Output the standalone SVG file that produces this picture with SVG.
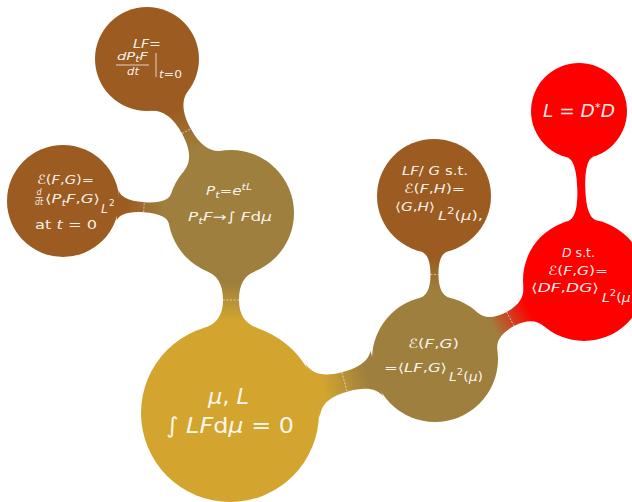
<svg xmlns="http://www.w3.org/2000/svg" width="632" height="502" viewBox="0 0 632 502">
<style>
text{font-family:"DejaVu Sans","Liberation Sans",sans-serif;fill:#fff;fill-opacity:.93;font-size:12.5px}
.i{font-style:italic}
.seam{stroke:#fff;stroke-width:.8;stroke-dasharray:2 1.5;opacity:.7}
.bar{stroke:#fff;stroke-opacity:.93;stroke-width:.8}
.gold{fill:#D3A52F}.olive{fill:#9E7F3D}.brown{fill:#9C5B20}.red{fill:#FF0000}
</style>
<defs>
<linearGradient id="gA" gradientUnits="userSpaceOnUse" x1="70" y1="0" x2="108" y2="0"><stop offset="0" stop-color="#9E7F3D"/><stop offset="1" stop-color="#D3A52F"/></linearGradient>
<linearGradient id="gB" gradientUnits="userSpaceOnUse" x1="72" y1="0" x2="118" y2="0"><stop offset="0" stop-color="#9E7F3D"/><stop offset="1" stop-color="#9C5B20"/></linearGradient>
<linearGradient id="gC" gradientUnits="userSpaceOnUse" x1="68" y1="0" x2="106" y2="0"><stop offset="0" stop-color="#9E7F3D"/><stop offset="1" stop-color="#9C5B20"/></linearGradient>
<linearGradient id="gD" gradientUnits="userSpaceOnUse" x1="96" y1="0" x2="142" y2="0"><stop offset="0" stop-color="#D3A52F"/><stop offset="1" stop-color="#9E7F3D"/></linearGradient>
<linearGradient id="gE" gradientUnits="userSpaceOnUse" x1="68" y1="0" x2="102" y2="0"><stop offset="0" stop-color="#9E7F3D"/><stop offset="1" stop-color="#9C5B20"/></linearGradient>
<linearGradient id="gF" gradientUnits="userSpaceOnUse" x1="66" y1="0" x2="106" y2="0"><stop offset="0" stop-color="#9E7F3D"/><stop offset="1" stop-color="#FF0000"/></linearGradient>
<linearGradient id="gG" gradientUnits="userSpaceOnUse" x1="66" y1="0" x2="116" y2="0"><stop offset="0" stop-color="#FF0000"/><stop offset="1" stop-color="#FF0000"/></linearGradient>
</defs>

<g id="connectors">
  <g transform="translate(231,213) rotate(90)">
    <path fill="url(#gA)" d="M58.4,23.6 C62.2,14.2 70.2,8 87,8 C103.8,8 111.5,15.9 115.4,27.8 L115.4,-27.8 C111.5,-15.9 103.8,-8 87,-8 C70.2,-8 62.2,-14.2 58.4,-23.6 Z"/>
    <line class="seam" x1="87" y1="-8" x2="87" y2="8"/>
  </g>
  <g transform="translate(231,213) rotate(-118.6)">
    <path fill="url(#gB)" d="M59.2,21.5 C62.6,12.2 72.1,5 93.2,5 C114.3,5 123.9,12.1 127.9,21.2 L127.9,-21.2 C123.9,-12.1 114.3,-5 93.2,-5 C72.1,-5 62.6,-12.2 59.2,-21.5 Z"/>
    <line class="seam" x1="93.2" y1="-5" x2="93.2" y2="5"/>
  </g>
  <g transform="translate(231,213) rotate(-176.2)">
    <path fill="url(#gC)" d="M61.1,15.2 C62.6,9.1 70.3,5 87.2,5 C104.1,5 111.8,9.2 113.6,15.4 L113.6,-15.4 C111.8,-9.2 104.1,-5 87.2,-5 C70.3,-5 62.6,-9.1 61.1,-15.2 Z"/>
    <line class="seam" x1="87.2" y1="-5" x2="87.2" y2="5"/>
  </g>
  <g transform="translate(230,413) rotate(-15.16)">
    <path fill="url(#gD)" d="M85.6,27.8 C89.3,17 98.6,10 118.6,10 C138.6,10 148.3,15.2 151.9,23.6 L151.9,-23.6 C148.3,-15.2 138.6,-10 118.6,-10 C98.6,-10 89.3,-17 85.6,-27.8 Z"/>
    <line class="seam" x1="118.6" y1="-10" x2="118.6" y2="10"/>
  </g>
  <g transform="translate(435,359) rotate(-90.35)">
    <path fill="url(#gE)" d="M61.1,15.2 C62.8,8.5 69.5,4 84.5,4 C99.5,4 106.2,7.9 107.7,13.8 L107.7,-13.8 C106.2,-7.9 99.5,-4 84.5,-4 C69.5,-4 62.8,-8.5 61.1,-15.2 Z"/>
    <line class="seam" x1="84.5" y1="-4" x2="84.5" y2="4"/>
  </g>
  <g transform="translate(435,359) rotate(-27.93)">
    <path fill="url(#gF)" d="M59.2,21.5 C62.1,13.4 69.7,8 85.3,8 C100.9,8 108.4,14 112,22.9 L112,-22.9 C108.4,-14 100.9,-8 85.3,-8 C69.7,-8 62.1,-13.4 59.2,-21.5 Z"/>
    <line class="seam" x1="85.3" y1="-8" x2="85.3" y2="8"/>
  </g>
  <g transform="translate(584,280) rotate(-91.69)">
    <path fill="url(#gG)" d="M59.2,14.8 C60.8,8.3 70,4 91,4 C112,4 121.4,7.7 123,13.2 L123,-13.2 C121.4,-7.7 112,-4 91,-4 C70,-4 60.8,-8.3 59.2,-14.8 Z"/>
  </g>
</g>

<g id="root">
  <circle class="gold" cx="230" cy="413" r="89"/>
  <text x="208" y="404" textLength="41" lengthAdjust="spacingAndGlyphs" style="font-size:22px"><tspan class="i">μ</tspan>, <tspan class="i">L</tspan></text>
  <text x="166" y="433" textLength="128" lengthAdjust="spacingAndGlyphs" style="font-size:22px">∫ <tspan class="i">LF</tspan>d<tspan class="i">μ</tspan> = 0</text>
</g>

<g id="semigroup">
  <circle class="olive" cx="231" cy="213" r="63"/>
  <text x="206" y="195" textLength="46" lengthAdjust="spacingAndGlyphs"><tspan class="i">P</tspan><tspan class="i" dy="3" style="font-size:9px">t</tspan><tspan dy="-3">=</tspan><tspan class="i">e</tspan><tspan class="i" dy="-5" style="font-size:9px">tL</tspan></text>
  <text x="188" y="221" textLength="84" lengthAdjust="spacingAndGlyphs"><tspan class="i">P</tspan><tspan class="i" dy="3" style="font-size:9px">t</tspan><tspan class="i" dy="-3">F</tspan>→∫ <tspan class="i">F</tspan>d<tspan class="i">μ</tspan></text>
</g>

<g id="generator">
  <circle class="brown" cx="147" cy="59" r="52"/>
  <text x="133" y="48" textLength="28" lengthAdjust="spacingAndGlyphs" style="font-size:13px"><tspan class="i">LF</tspan>=</text>
  <text class="i" x="117" y="60" textLength="31" lengthAdjust="spacingAndGlyphs" style="font-size:11px">dP<tspan dy="2" style="font-size:8px">t</tspan><tspan dy="-2">F</tspan></text>
  <line class="bar" x1="116" y1="65" x2="149" y2="65"/>
  <text class="i" x="127" y="75" textLength="12" lengthAdjust="spacingAndGlyphs" style="font-size:11px">dt</text>
  <line class="bar" x1="156" y1="53" x2="156" y2="77"/>
  <text x="159" y="78" textLength="23" lengthAdjust="spacingAndGlyphs" style="font-size:10px"><tspan class="i">t</tspan>=0</text>
</g>

<g id="dirichlet-derivative">
  <circle class="brown" cx="63" cy="201" r="56"/>
  <text x="37" y="184" textLength="57" lengthAdjust="spacingAndGlyphs">ℰ(<tspan class="i">F</tspan>,<tspan class="i">G</tspan>)=</text>
  <text class="i" x="36.5" y="195" style="font-size:8px">d</text>
  <line class="bar" x1="35.5" y1="197.5" x2="42.5" y2="197.5"/>
  <text class="i" x="35" y="205" textLength="8" lengthAdjust="spacingAndGlyphs" style="font-size:8px">dt</text>
  <text x="45" y="203" textLength="55" lengthAdjust="spacingAndGlyphs">⟨<tspan class="i">P</tspan><tspan class="i" dy="3" style="font-size:9px">t</tspan><tspan class="i" dy="-3">F</tspan>,<tspan class="i">G</tspan>⟩</text>
  <text class="i" x="101" y="213">L</text>
  <text x="109" y="206" style="font-size:9px">2</text>
  <text x="35" y="229" textLength="62" lengthAdjust="spacingAndGlyphs" style="font-size:13px">at <tspan class="i">t</tspan> = 0</text>
</g>

<g id="dirichlet-form">
  <circle class="olive" cx="435" cy="359" r="63"/>
  <text x="408" y="348" textLength="51" lengthAdjust="spacingAndGlyphs">ℰ(<tspan class="i">F</tspan>,<tspan class="i">G</tspan>)</text>
  <text x="384" y="372" textLength="63" lengthAdjust="spacingAndGlyphs">=⟨<tspan class="i">LF</tspan>,<tspan class="i">G</tspan>⟩</text>
  <text x="449" y="381" textLength="34" lengthAdjust="spacingAndGlyphs"><tspan class="i">L</tspan><tspan dy="-6" style="font-size:9px">2</tspan><tspan dy="6">(</tspan><tspan class="i">μ</tspan>)</text>
</g>

<g id="weak-generator">
  <circle class="brown" cx="434" cy="196" r="57"/>
  <text x="402" y="175" textLength="66" lengthAdjust="spacingAndGlyphs"><tspan class="i">LF</tspan>/ <tspan class="i">G</tspan> s.t.</text>
  <text x="404" y="193" textLength="61" lengthAdjust="spacingAndGlyphs">ℰ(<tspan class="i">F</tspan>,<tspan class="i">H</tspan>)=</text>
  <text x="395" y="211" textLength="40" lengthAdjust="spacingAndGlyphs">⟨<tspan class="i">G</tspan>,<tspan class="i">H</tspan>⟩</text>
  <text x="438" y="220" textLength="45" lengthAdjust="spacingAndGlyphs"><tspan class="i">L</tspan><tspan dy="-6" style="font-size:9px">2</tspan><tspan dy="6">(</tspan><tspan class="i">μ</tspan>),</text>
</g>

<g id="derivation">
  <circle class="red" cx="584" cy="280" r="61"/>
  <text x="562" y="257" textLength="33" lengthAdjust="spacingAndGlyphs"><tspan class="i">D</tspan> s.t.</text>
  <text x="548" y="275" textLength="60" lengthAdjust="spacingAndGlyphs">ℰ(<tspan class="i">F</tspan>,<tspan class="i">G</tspan>)=</text>
  <text x="531" y="292" textLength="68" lengthAdjust="spacingAndGlyphs">⟨<tspan class="i">DF</tspan>,<tspan class="i">DG</tspan>⟩</text>
  <text x="602" y="302" textLength="34" lengthAdjust="spacingAndGlyphs"><tspan class="i">L</tspan><tspan dy="-6" style="font-size:9px">2</tspan><tspan dy="6">(</tspan><tspan class="i">μ</tspan>)</text>
</g>

<g id="factorization">
  <circle class="red" cx="579" cy="111" r="48"/>
  <text x="543" y="117" textLength="72" lengthAdjust="spacingAndGlyphs" style="font-size:17px"><tspan class="i">L</tspan> = <tspan class="i">D</tspan><tspan dy="-6" style="font-size:11px">*</tspan><tspan class="i" dy="6">D</tspan></text>
</g>
</svg>
